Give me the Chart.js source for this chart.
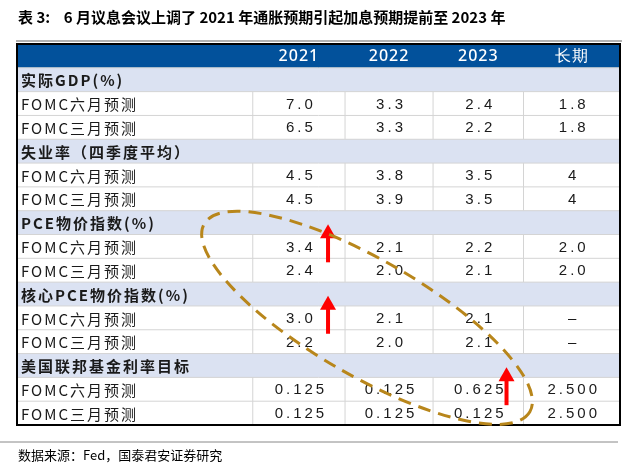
<!DOCTYPE html>
<html><head><meta charset="utf-8">
<script src="https://cdn.jsdelivr.net/npm/chart.js@4/dist/chart.umd.min.js"></script>
<style>body{margin:0;background:#fff}</style>
</head><body>
<canvas id="tbl" width="640" height="466"></canvas>
<script>
// Table data
const columns = ['2021', '2022', '2023', '长期'];
const rowLabels = ['header', '实际GDP(%)', 'FOMC六月预测', 'FOMC三月预测',
  '失业率（四季度平均）', 'FOMC六月预测', 'FOMC三月预测',
  'PCE物价指数(%)', 'FOMC六月预测', 'FOMC三月预测',
  '核心PCE物价指数(%)', 'FOMC六月预测', 'FOMC三月预测',
  '美国联邦基金利率目标', 'FOMC六月预测', 'FOMC三月预测'];
const sectionRows = [1, 4, 7, 10, 13];
const gdpJune = ['7.0', '3.3', '2.4', '1.8'];
const gdpMarch = ['6.5', '3.3', '2.2', '1.8'];
const unempJune = ['4.5', '3.8', '3.5', '4'];
const unempMarch = ['4.5', '3.9', '3.5', '4'];
const pceJune = ['3.4', '2.1', '2.2', '2.0'];
const pceMarch = ['2.4', '2.0', '2.1', '2.0'];
const corePceJune = ['3.0', '2.1', '2.1', '–'];
const corePceMarch = ['2.2', '2.0', '2.1', '–'];
const fedJune = ['0.125', '0.125', '0.625', '2.500'];
const fedMarch = ['0.125', '0.125', '0.125', '2.500'];
const rowValues = {2: gdpJune, 3: gdpMarch, 5: unempJune, 6: unempMarch, 8: pceJune, 9: pceMarch,
  11: corePceJune, 12: corePceMarch, 14: fedJune, 15: fedMarch};
// red arrows: [column index, row index]
const arrows = [[0, 8], [0, 11], [2, 14]];

// layout: column edges as fraction of table width
const colEdges = [0, 0.391, 0.544, 0.690, 0.840, 1];

const tablePlugin = {
  id: 'tablePlugin',
  afterDraw(chart) {
    const ctx = chart.ctx, a = chart.chartArea, ys = chart.scales.y;
    const W = a.right - a.left, rh = a.height / rowLabels.length;
    const colX = i => a.left + colEdges[i] * W;
    ctx.save();
    // title
    ctx.fillStyle = '#000';
    ctx.font = 'bold 15px "Noto Sans CJK SC"';
    ctx.textBaseline = 'middle';
    ctx.fillText('表 3:    6 月议息会议上调了 2021 年通胀预期引起加息预期提前至 2023 年', 18, 17);
    ctx.strokeStyle = '#999'; ctx.lineWidth = 1.5;
    ctx.beginPath(); ctx.moveTo(16, a.top - 3); ctx.lineTo(a.right + 2, a.top - 3); ctx.stroke();

    rowLabels.forEach((lab, r) => {
      const yc = ys.getPixelForValue(r), y0 = yc - rh / 2;
      if (r === 0) {
        ctx.fillStyle = '#02519b';
        ctx.fillRect(a.left, y0, W, rh);
        ctx.fillStyle = '#fff';
        ctx.font = '500 16px "Noto Sans"';
        ctx.textAlign = 'center';
        ctx.letterSpacing = '1px';
        columns.forEach((c, i) => ctx.fillText(c, (colX(i + 1) + colX(i + 2)) / 2, yc + 1));
        ctx.letterSpacing = '0px';
        return;
      }
      const isSection = sectionRows.includes(r);
      if (isSection) {
        ctx.fillStyle = '#dbe2f2';
        ctx.fillRect(a.left, y0, W, rh);
      }
      ctx.strokeStyle = '#d4d4d4'; ctx.lineWidth = 1;
      ctx.beginPath(); ctx.moveTo(a.left, y0); ctx.lineTo(a.right, y0); ctx.stroke();
      ctx.textAlign = 'left';
      ctx.fillStyle = '#1a1a1a';
      ctx.letterSpacing = '2px';
      ctx.font = (isSection ? 'bold ' : '') + '15px "Noto Sans CJK SC"';
      ctx.fillText(lab, a.left + 4, yc + 1);
      if (!isSection) {
        ctx.beginPath();
        for (let i = 1; i < 5; i++) { ctx.moveTo(colX(i), y0); ctx.lineTo(colX(i), y0 + rh); }
        ctx.stroke();
        ctx.textAlign = 'center';
        ctx.letterSpacing = '3px';
        ctx.font = '15px "Liberation Sans"';
        rowValues[r].forEach((v, i) => ctx.fillText(v, (colX(i + 1) + colX(i + 2)) / 2 + 2, yc + 1));
      }
      ctx.letterSpacing = '0px';
    });
    // outer border
    ctx.strokeStyle = '#000'; ctx.lineWidth = 2;
    ctx.strokeRect(a.left, a.top, W, a.height);

    // red arrows at right edge of cell
    ctx.fillStyle = '#f00';
    arrows.forEach(([c, r]) => {
      const x = colX(c + 2) - 17, yb = ys.getPixelForValue(r) + rh / 2 + 4, yt = yb - 38;
      ctx.fillRect(x - 2, yt + 12, 4, 26);
      ctx.beginPath(); ctx.moveTo(x, yt); ctx.lineTo(x - 8, yt + 14); ctx.lineTo(x + 8, yt + 14); ctx.closePath(); ctx.fill();
    });
    // dashed ellipse around rising forecasts
    ctx.strokeStyle = '#b8861b'; ctx.lineWidth = 3; ctx.setLineDash([13, 8]);
    ctx.beginPath();
    ctx.ellipse(colX(2) + 22, ys.getPixelForValue(11), 188, 58, Math.PI / 6, 0, Math.PI * 2);
    ctx.stroke();
    ctx.setLineDash([]);

    // source
    ctx.strokeStyle = '#888'; ctx.lineWidth = 1;
    ctx.beginPath(); ctx.moveTo(0, a.bottom + 17); ctx.lineTo(a.right - 2, a.bottom + 17); ctx.stroke();
    ctx.fillStyle = '#000'; ctx.textAlign = 'left';
    ctx.font = '13px "Noto Sans CJK SC"';
    ctx.fillText('数据来源：Fed，国泰君安证券研究', 18, a.bottom + 30);
    ctx.restore();
  }
};

new Chart(document.getElementById('tbl'), {
  type: 'scatter',
  data: { labels: rowLabels, datasets: [{ data: [] }] },
  options: {
    responsive: false, animation: false,
    layout: { padding: { left: 17, right: 20, top: 44, bottom: 41 } },
    plugins: { legend: { display: false }, tooltip: { enabled: false } },
    scales: {
      x: { type: 'linear', min: 0, max: 1, display: false },
      y: { type: 'category', labels: rowLabels, offset: true, display: false }
    }
  },
  plugins: [tablePlugin]
});
</script>
</body></html>
